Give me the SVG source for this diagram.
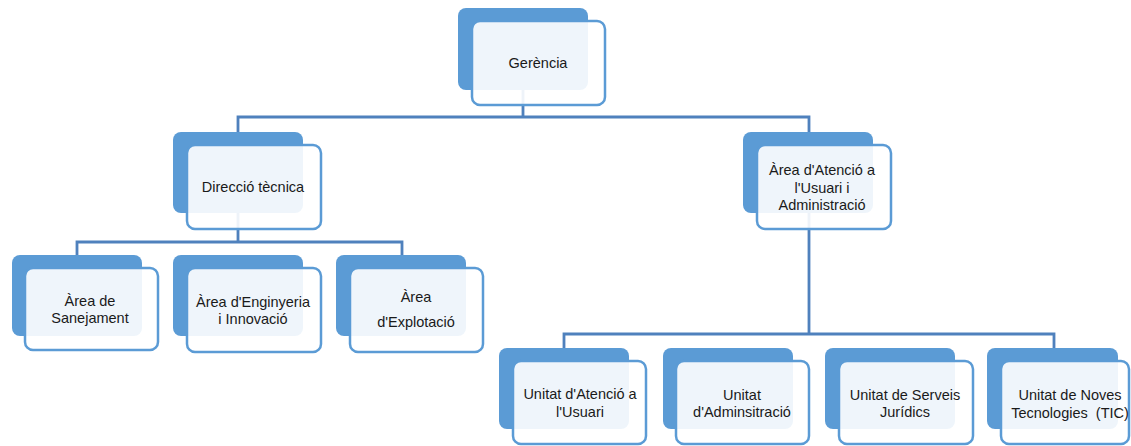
<svg xmlns="http://www.w3.org/2000/svg" width="1131" height="446" viewBox="0 0 1131 446">
<style>
.bk{fill:#5B9BD5;}
.fr{fill:#ffffff;fill-opacity:0.9;stroke:#5B9BD5;stroke-width:2.5;}
.cn{fill:none;stroke:#4F81BD;stroke-width:2.8;}
text{font-family:"Liberation Sans",Arial,sans-serif;font-size:14.5px;fill:#1a1a1a;text-anchor:middle;white-space:pre;}
</style>
<rect width="1131" height="446" fill="#ffffff"/>
<g id="connectors">
<path class="cn" d="M523,90 V117 M238,132 V117 H809 V132"/>
<path class="cn" d="M238,213 V242 M77,255 V242 H402 V255"/>
<path class="cn" d="M809,213 V334 M564,348 V334 H1054 V348"/>
</g>
<g id="n-gerencia">
<rect class="bk" x="458" y="8" width="130" height="82" rx="8"/>
<rect class="fr" x="472" y="21" width="133" height="84" rx="8"/>
<text x="538" y="68">Gerència</text>
</g>
<g id="n-direccio">
<rect class="bk" x="173" y="132" width="130" height="81" rx="8"/>
<rect class="fr" x="187" y="145" width="134" height="84" rx="8"/>
<text x="253" y="192">Direcció tècnica</text>
</g>
<g id="n-atencio-admin">
<rect class="bk" x="743" y="132" width="130" height="81" rx="8"/>
<rect class="fr" x="757" y="145" width="134" height="84" rx="8"/>
<text x="822" y="175">Àrea d'Atenció a</text>
<text x="822" y="193">l'Usuari i</text>
<text x="822" y="210">Administració</text>
</g>
<g id="n-sanejament">
<rect class="bk" x="12" y="255" width="130" height="81" rx="8"/>
<rect class="fr" x="25" y="268" width="133" height="82" rx="8"/>
<text x="90" y="306">Àrea de</text>
<text x="90" y="323">Sanejament</text>
</g>
<g id="n-enginyeria">
<rect class="bk" x="173" y="255" width="130" height="81" rx="8"/>
<rect class="fr" x="187" y="268" width="134" height="84" rx="8"/>
<text x="253" y="307">Àrea d'Enginyeria</text>
<text x="253" y="324">i Innovació</text>
</g>
<g id="n-explotacio">
<rect class="bk" x="336" y="255" width="130" height="81" rx="8"/>
<rect class="fr" x="350" y="268" width="133" height="84" rx="8"/>
<text x="416" y="302">Àrea</text>
<text x="416" y="327">d'Explotació</text>
</g>
<g id="n-u-atencio">
<rect class="bk" x="499" y="348" width="130" height="81" rx="8"/>
<rect class="fr" x="513" y="361" width="133" height="83" rx="8"/>
<text x="580" y="399">Unitat d'Atenció a</text>
<text x="580" y="417">l'Usuari</text>
</g>
<g id="n-u-admin">
<rect class="bk" x="663" y="348" width="130" height="81" rx="8"/>
<rect class="fr" x="676" y="361" width="133" height="83" rx="8"/>
<text x="742" y="400">Unitat</text>
<text x="742" y="417">d'Adminsitració</text>
</g>
<g id="n-u-serveis">
<rect class="bk" x="825" y="348" width="130" height="81" rx="8"/>
<rect class="fr" x="839" y="361" width="134" height="83" rx="8"/>
<text x="905" y="400">Unitat de Serveis</text>
<text x="905" y="417">Jurídics</text>
</g>
<g id="n-u-tic">
<rect class="bk" x="987" y="348" width="131" height="81" rx="8"/>
<rect class="fr" x="1001" y="361" width="128" height="83" rx="8"/>
<text x="1070" y="400">Unitat de Noves</text>
<text x="1070" y="418">Tecnologies  (TIC)</text>
</g>
</svg>
